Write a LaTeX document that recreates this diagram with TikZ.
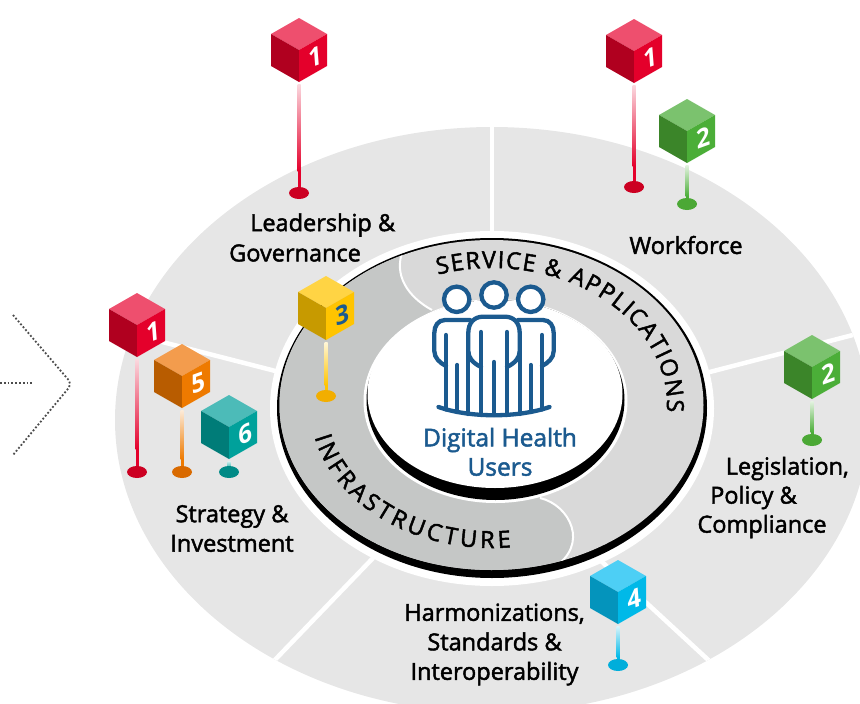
\documentclass[tikz,border=0pt]{standalone}
\usepackage{fontspec}
\setmainfont[FakeBold=2]{Open Sans}
\newfontfamily\cubefont[FakeSlant=0.28,BoldFeatures={FakeSlant=0.28}]{Open Sans}
\usetikzlibrary{decorations.text}

\definecolor{disk}{HTML}{E6E6E6}
\definecolor{service}{HTML}{D9D9D9}
\definecolor{infra}{HTML}{C5C7C6}
\definecolor{people}{HTML}{1B5A8F}

\definecolor{redtop}{HTML}{EE4F6E}\definecolor{redleft}{HTML}{B0001F}\definecolor{redright}{HTML}{E4002B}\definecolor{redfoot}{HTML}{CC0022}
\definecolor{orangetop}{HTML}{F39C4D}\definecolor{orangeleft}{HTML}{B85C00}\definecolor{orangeright}{HTML}{EE7A00}\definecolor{orangefoot}{HTML}{D96A00}
\definecolor{tealtop}{HTML}{4CBBB8}\definecolor{tealleft}{HTML}{007C78}\definecolor{tealright}{HTML}{00A19B}\definecolor{tealfoot}{HTML}{008A86}
\definecolor{greentop}{HTML}{7BC26E}\definecolor{greenleft}{HTML}{3B8529}\definecolor{greenright}{HTML}{4BAE38}\definecolor{greenfoot}{HTML}{4BA835}
\definecolor{bluetop}{HTML}{4DCFF5}\definecolor{blueleft}{HTML}{0494BC}\definecolor{blueright}{HTML}{00B9E8}\definecolor{bluefoot}{HTML}{00AEDB}
\definecolor{yellowtop}{HTML}{FFD444}\definecolor{yellowleft}{HTML}{C79A00}\definecolor{yellowright}{HTML}{FFC400}\definecolor{yellowfoot}{HTML}{F2AE00}

\tikzset{
	divider/.style={white,line width=4.5},
	peopleline/.style={people,line width=4.3,line cap=round},
	seam/.style={white,line width=2},
	wedgetext/.style={font=\fontsize{23.5}{29.5}\selectfont,align=center,inner sep=0},
	usertext/.style={font=\fontsize{24.5}{29}\selectfont,text=people,inner sep=0},
	numtext/.style={font=\fontsize{25}{25}\selectfont\cubefont\bfseries,rotate=20,inner sep=0},
	chevron/.style={black!70,line width=1.8,dash pattern=on 1.8 off 2},
}

% cube on a stem: x, y of the cube, stem length, colour, number
\newcommand{\flagcube}[6][white]{
	\begin{scope}[shift={(#2,#3)}]
		\pgfmathsetmacro{\stemmid}{34+(#4-34)*0.4}
		\pgfmathsetmacro{\stemfade}{34+(#4-34)*0.8}
		\fill[#5right] (-1.5,\stemmid) rectangle (1.5,#4);
		\shade[top color=#5right!15,middle color=#5right,bottom color=#5right] (-1.5,34) rectangle (1.5,\stemfade);
		\fill[#5foot] (0,#4) ellipse [x radius=10,y radius=6];
		\fill[#5top] (0,0) -- (-28,-16) -- (0,-32) -- (28,-16) -- cycle;
		\fill[#5left] (0,0) -- (-28,-16) -- (-28,16) -- (0,32) -- cycle;
		\fill[#5right] (0,0) -- (28,-16) -- (28,16) -- (0,32) -- cycle;
		\node[numtext,text=#1] (num#5#6x#2) at (14,8) {#6};
	\end{scope}
}

\begin{document}
\begin{tikzpicture}[x=1pt, y=-1pt]

	\useasboundingbox (0,0) rectangle (860,704);

	% outer disk, clipped by the page
	\begin{scope}
		\clip (0,0) rectangle (860,704);
		\fill[disk] (492,420) ellipse [x radius=377,y radius=293];
		\clip (492,420) ellipse [x radius=377,y radius=293];
		\draw[divider] (492,120) -- (492,300);
		\draw[divider] (640,390) -- (880,328);
		\draw[divider] (600,560) -- (730,680);
		\draw[divider] (400,530) -- (270,665);
		\draw[divider] (330,385) -- (100,326);
	\end{scope}

	% ring
	\fill[white] (492,408.5) ellipse [x radius=222,y radius=177.5];
	\fill[black] (492,408) ellipse [x radius=215,y radius=170];
	\fill[service] (491.5,405) ellipse [x radius=212,y radius=165];
	\begin{scope}
		\clip (491.5,405) ellipse [x radius=212,y radius=165];
		\fill[infra] (403,250) .. controls (393,275) and (408,297) .. (432,310) -- (495,394) -- (540,498)
			.. controls (570,505) and (590,545) .. (553,568) -- (300,640) -- (200,400) -- (300,230) -- cycle;
		\draw[seam] (403,250) .. controls (393,275) and (408,297) .. (432,310);
		\draw[seam] (540,498) .. controls (570,505) and (590,545) .. (553,568);
	\end{scope}

	\path[decorate,decoration={text along path,text align={fit to path},
		text={|\fontsize{23.5}{23.5}\selectfont|SERVICE {\&} APPLICATIONS}}]
		(492,405) ++(-108:175 and 137) arc [start angle=-108,end angle=3,x radius=175,y radius=137];
	\path[decorate,decoration={text along path,text align={fit to path},
		text={|\fontsize{23.5}{23.5}\selectfont|INFRASTRUCTURE}}]
		(492,405) ++(167:182 and 143) arc [start angle=167,end angle=84,x radius=182,y radius=143];

	% inner disk
	\fill[white] (495.5,401) ellipse [x radius=132,y radius=102];
	\fill[black] (495.5,400) ellipse [x radius=129,y radius=100];
	\fill[white] (495,394) ellipse [x radius=127.5,y radius=94];

	% people
	\foreach \headx/\heady in {456.7/299.3,494/295,530.7/299.3}
		\draw[peopleline,fill=white] (\headx,\heady) circle [radius=12.7];
	\foreach \bodyx/\bodyy/\bodyend in {446/335/409.5,457.3/365/412,468.3/333/414,481/332/415,494/362/415,507/332/415,519.7/333/414,530.7/365/412,542/335/409.5}
		\draw[peopleline] (\bodyx,\bodyy) -- (\bodyx,\bodyend);
	\draw[peopleline] (470,320) -- (445,320) .. controls (438,320) and (434.3,326) .. (434.3,333)
		-- (434.3,351) .. controls (434.3,358) and (440,363) .. (446,366);
	\draw[peopleline] (518,320) -- (543,320) .. controls (550,320) and (553.7,326) .. (553.7,333)
		-- (553.7,351) .. controls (553.7,358) and (548,363) .. (542,366);
	\draw[peopleline] (481,367) .. controls (473,363) and (468.3,358) .. (468.3,351) -- (468.3,333)
		.. controls (468.3,323) and (474,316.7) .. (483,316.7) -- (505,316.7)
		.. controls (514,316.7) and (519.7,323) .. (519.7,333) -- (519.7,351)
		.. controls (519.7,358) and (515,363) .. (507,367);
	\draw[peopleline] (438.5,407) .. controls (470,418) and (518,418) .. (549.5,407);

	\node[usertext] (digital) at (500,440) {Digital Health};
	\node[usertext] (users) at (500,467) {Users};

	% wedge labels
	\node[wedgetext,anchor=west] (leadership) at (250,225) {Leadership \&};
	\node[wedgetext,anchor=west] (governance) at (229,253) {Governance};
	\node[wedgetext] (workforce) at (686,245) {Workforce};
	\node[wedgetext] (strategy) at (232,528.5) {Strategy \&\\Investment};
	\node[wedgetext,anchor=east] (legislation) at (849,468.5) {Legislation,};
	\node[wedgetext,anchor=west] (policy) at (710,497.5) {Policy \&};
	\node[wedgetext] (compliance) at (762,526.5) {Compliance};
	\node[wedgetext] (harmonizations) at (494.5,644.5) {Harmonizations,\\Standards \&\\Interoperability};

	% cubes
	\flagcube{299}{50}{143}{red}{1}
	\flagcube{634}{51}{136}{red}{1}
	\flagcube{687}{131}{73}{green}{2}
	\flagcube{812}{367}{73}{green}{2}
	\flagcube[people]{326}{308}{88}{yellow}{3}
	\flagcube{618}{592}{73}{blue}{4}
	\flagcube{137}{325}{147}{red}{1}
	\flagcube{182}{376}{96}{orange}{5}
	\flagcube{229}{427}{45}{teal}{6}

	% chevron on the left
	\coordinate (chevtop) at (13,315);
	\coordinate (chevtip) at (72,384);
	\coordinate (chevbot) at (13,455);
	\coordinate (chevin) at (0,383);
	\coordinate (chevend) at (33,383);
	\draw[chevron,rounded corners=5] (chevtop) -- (chevtip) -- (chevbot);
	\draw[chevron] (chevin) -- (chevend);

\end{tikzpicture}
\end{document}
